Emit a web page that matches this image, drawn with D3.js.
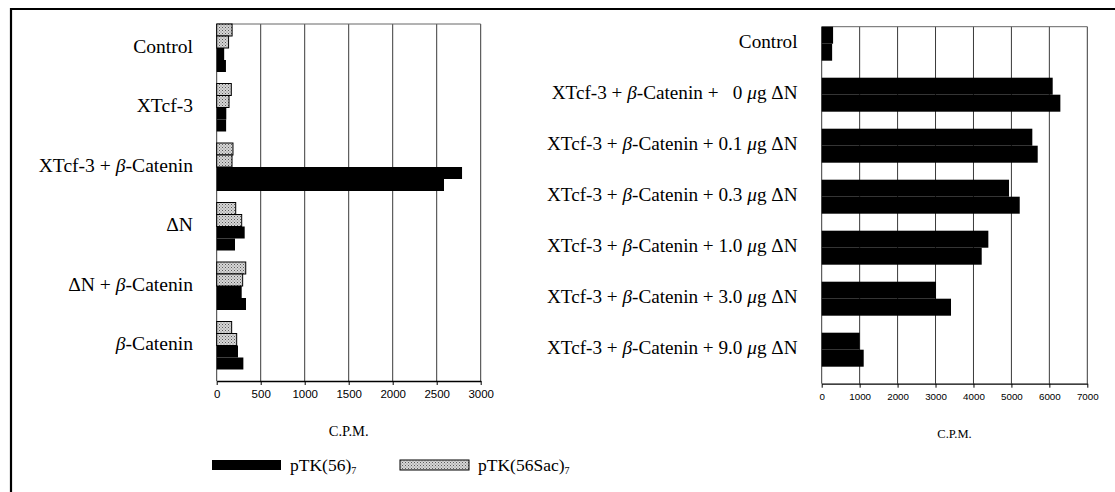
<!DOCTYPE html>
<html>
<head>
<meta charset="utf-8">
<script src="https://cdn.jsdelivr.net/npm/d3@7"></script>
<style>
  body { margin: 0; background: #fff; }
  svg { display: block; }
  .label { font-family: "Liberation Serif", "Times New Roman", serif; fill: #000; white-space: pre; }
  .tick text { font-family: "Liberation Sans", Arial, sans-serif; fill: #000; }
</style>
</head>
<body>
<svg id="chart" width="1115" height="492"></svg>
<script>
// left panel
const leftCategories = ['Control', 'XTcf-3', 'XTcf-3 + β-Catenin', 'ΔN', 'ΔN + β-Catenin', 'β-Catenin'];
const leftSac1 = [175, 166, 185, 216, 330, 170];
const leftSac2 = [135, 140, 174, 284, 295, 227];
const leftTk1 = [85, 109, 2788, 318, 284, 242];
const leftTk2 = [105, 107, 2583, 208, 333, 303];
const leftTicks = [0, 500, 1000, 1500, 2000, 2500, 3000];

// right panel
const rightCategories = [
    'Control',
    'XTcf-3 + β-Catenin +   0 μg ΔN',
    'XTcf-3 + β-Catenin + 0.1 μg ΔN',
    'XTcf-3 + β-Catenin + 0.3 μg ΔN',
    'XTcf-3 + β-Catenin + 1.0 μg ΔN',
    'XTcf-3 + β-Catenin + 3.0 μg ΔN',
    'XTcf-3 + β-Catenin + 9.0 μg ΔN'
];
const rightTk1 = [300, 6088, 5551, 4937, 4392, 3013, 1001];
const rightTk2 = [275, 6290, 5693, 5219, 4217, 3408, 1107];
const rightTicks = [0, 1000, 2000, 3000, 4000, 5000, 6000, 7000];

const legendItems = [
    { name: 'pTK(56)', sub: '7', stipple: false },
    { name: 'pTK(56Sac)', sub: '7', stipple: true }
];

const svg = d3.select('#chart');

// stipple fill for the Sac bars
const pat = svg.append('defs').append('pattern')
    .attr('id', 'stipple')
    .attr('width', 3).attr('height', 3)
    .attr('patternUnits', 'userSpaceOnUse');
pat.append('rect').attr('width', 3).attr('height', 3).attr('fill', '#d6d6d6');
pat.append('rect').attr('x', 0).attr('y', 0).attr('width', 1).attr('height', 1).attr('fill', '#5a5a5a');
pat.append('rect').attr('x', 1.5).attr('y', 1.5).attr('width', 1).attr('height', 1).attr('fill', '#7a7a7a');

// outer frame (cut off at right and bottom)
svg.append('path')
    .attr('d', 'M11,492 V9 H1115')
    .attr('fill', 'none')
    .attr('stroke', '#000')
    .attr('stroke-width', 2.2);

// write a label, greek β and μ in italic
function richText(sel, str) {
    str.split(/([βμ])/).filter(s => s.length).forEach(part => {
        const t = sel.append('tspan').text(part);
        if (part === 'β' || part === 'μ') t.attr('font-style', 'italic');
    });
}

function drawPanel(opts) {
    const x = d3.scaleLinear().domain([0, opts.max]).range([opts.x0, opts.x1]);
    const pad = opts.pad;
    const y = d3.scaleBand()
        .domain(opts.categories)
        .range([opts.y0, opts.y1])
        .paddingInner(pad)
        .paddingOuter(pad / 2)
        .align(0);
    const sub = d3.scaleBand()
        .domain(d3.range(opts.series.length))
        .range([0, y.bandwidth()]);

    const g = svg.append('g');

    // grid
    g.append('g').selectAll('line')
        .data(opts.ticks)
        .enter()
        .append('line')
        .attr('x1', d => x(d)).attr('x2', d => x(d))
        .attr('y1', opts.y0).attr('y2', opts.y1)
        .attr('stroke', '#3a3a3a')
        .attr('stroke-width', 1);
    g.append('line')
        .attr('x1', x(0)).attr('x2', x(opts.max))
        .attr('y1', opts.y0).attr('y2', opts.y0)
        .attr('stroke', '#666').attr('stroke-width', 1);

    // bars
    opts.series.forEach((s, si) => {
        g.append('g').selectAll('rect')
            .data(s.values)
            .enter()
            .append('rect')
            .attr('x', x(0))
            .attr('y', (d, i) => y(opts.categories[i]) + sub(si))
            .attr('width', d => x(d) - x(0))
            .attr('height', sub.bandwidth())
            .attr('fill', s.stipple ? 'url(#stipple)' : '#000')
            .attr('stroke', s.stipple ? '#000' : 'none')
            .attr('stroke-width', 1);
    });

    // axis
    const axis = g.append('g')
        .attr('transform', `translate(0, ${opts.y1})`)
        .call(d3.axisBottom(x)
            .tickValues(opts.ticks)
            .tickFormat(d3.format('d'))
            .tickSize(4).tickPadding(5).tickSizeOuter(0));
    axis.select('.domain').attr('stroke', '#000').attr('stroke-width', 1.3);
    axis.selectAll('.tick line').attr('stroke', '#000');
    axis.selectAll('.tick text').attr('font-size', opts.tickFont);

    g.append('text')
        .attr('class', 'label')
        .attr('x', (x(0) + x(opts.max)) / 2)
        .attr('y', opts.y1 + opts.cpmOffset)
        .attr('text-anchor', 'middle')
        .attr('font-size', opts.cpmFont)
        .text('C.P.M.');

    // category labels
    g.append('g').selectAll('text')
        .data(opts.categories)
        .enter()
        .append('text')
        .attr('class', 'label')
        .attr('x', opts.labelX)
        .attr('y', d => y(d) + y.bandwidth() / 2 - 2)
        .attr('dy', '0.35em')
        .attr('text-anchor', 'end')
        .attr('font-size', opts.labelFont)
        .each(function (d) { richText(d3.select(this), d); });
}

drawPanel({
    categories: leftCategories,
    series: [
        { values: leftSac1, stipple: true },
        { values: leftSac2, stipple: true },
        { values: leftTk1, stipple: false },
        { values: leftTk2, stipple: false }
    ],
    ticks: leftTicks,
    max: 3000,
    x0: 216.7, x1: 480.7,
    y0: 24, y1: 381,
    pad: 11.5 / 59.5,
    labelX: 193,
    labelFont: 19.6,
    tickFont: 11.5,
    cpmFont: 14.5,
    cpmOffset: 55
});

drawPanel({
    categories: rightCategories,
    series: [
        { values: rightTk1, stipple: false },
        { values: rightTk2, stipple: false }
    ],
    ticks: rightTicks,
    max: 7000,
    x0: 821.7, x1: 1087.3,
    y0: 26.7, y1: 383.7,
    pad: 17 / 51,
    labelX: 797.5,
    labelFont: 19.2,
    tickFont: 9.8,
    cpmFont: 12.5,
    cpmOffset: 54
});

// legend
const legend = svg.append('g');
const legendX = [212, 400];
legendItems.forEach((item, i) => {
    legend.append('rect')
        .attr('x', legendX[i]).attr('y', 460)
        .attr('width', 69).attr('height', 10)
        .attr('fill', item.stipple ? 'url(#stipple)' : '#000')
        .attr('stroke', item.stipple ? '#000' : 'none')
        .attr('stroke-width', 1);
    const t = legend.append('text')
        .attr('class', 'label')
        .attr('x', legendX[i] + 78)
        .attr('y', 471)
        .attr('font-size', 17.5);
    t.append('tspan').text(item.name);
    t.append('tspan').attr('font-size', 10).attr('dy', 3).text(item.sub);
});
</script>
</body>
</html>
